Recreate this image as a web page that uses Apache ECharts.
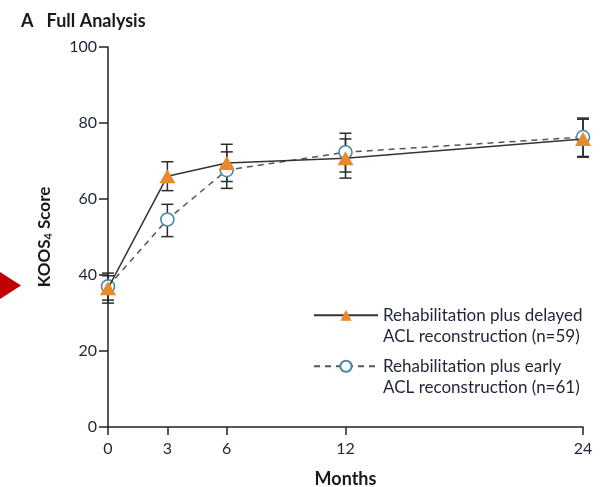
<!DOCTYPE html>
<html>
<head>
<meta charset="utf-8">
<script src="https://cdn.jsdelivr.net/npm/echarts@6/dist/echarts.min.js"></script>
<style>
  html, body { margin: 0; padding: 0; background: #fff; }
  #chart { width: 600px; height: 487px; }
</style>
</head>
<body>
<div id="chart"></div>
<script>
var months = [0, 3, 6, 12, 24];
var monthTicks = [0, 3, 6, 12, 24];

// Rehabilitation plus delayed ACL reconstruction
var delayedMean = [36.5, 66.0, 69.5, 70.7, 75.8];
var delayedLow = [33.4, 62.2, 64.6, 65.5, 71.0];
var delayedHigh = [39.8, 69.8, 74.4, 75.8, 81.0];

// Rehabilitation plus early ACL reconstruction
var earlyMean = [37.0, 54.6, 67.6, 72.3, 76.3];
var earlyLow = [32.6, 50.1, 62.8, 67.1, 71.2];
var earlyHigh = [40.5, 58.6, 72.4, 77.3, 81.3];

var nameDelayed = 'Rehabilitation plus delayed\nACL reconstruction (n=59)';
var nameEarly = 'Rehabilitation plus early\nACL reconstruction (n=61)';

var FONT = 'Lato';
var TXT = '#1f2536';

function pairs(xs, ys) {
	return xs.map(function (x, i) { return [x, ys[i]]; });
}
function bars(xs, lo, hi) {
	return xs.map(function (x, i) { return [x, lo[i], hi[i]]; });
}

function renderErrorBar(params, api) {
	var x = api.value(0);
	var lo = api.coord([x, api.value(1)]);
	var hi = api.coord([x, api.value(2)]);
	var w = 6;
	var style = { stroke: '#2b2b2b', lineWidth: 1.5 };
	return {
		type: 'group',
		children: [
			{ type: 'line', shape: { x1: lo[0], y1: lo[1], x2: hi[0], y2: hi[1] }, style: style },
			{ type: 'line', shape: { x1: lo[0] - w, y1: lo[1], x2: lo[0] + w, y2: lo[1] }, style: style },
			{ type: 'line', shape: { x1: hi[0] - w, y1: hi[1], x2: hi[0] + w, y2: hi[1] }, style: style }
		]
	};
}

var chart = echarts.init(document.getElementById('chart'));

// empty first line so the icon sits level with the first text line
function legendLabel(name) {
	return '\n' + name;
}

var legendText = {
	fontFamily: FONT,
	fontSize: 17,
	color: TXT,
	lineHeight: 21.5
};

var option = {
	backgroundColor: '#fff',
	animation: false,
	title: {
		text: 'A   Full Analysis',
		left: 16,
		top: 7,
		textStyle: { fontFamily: FONT, fontSize: 18, fontWeight: 'bold', color: '#1a1a1a' }
	},
	grid: { left: 108, right: 17, top: 47, bottom: 60, outerBoundsMode: 'none', containLabel: false },
	legend: [
		{
			data: [nameDelayed],
			formatter: legendLabel,
			left: 308,
			top: 278,
			itemWidth: 64,
			itemHeight: 14,
			itemGap: 8,
			textStyle: legendText
		},
		{
			data: [nameEarly],
			formatter: legendLabel,
			left: 308,
			top: 329,
			itemWidth: 64,
			itemHeight: 14,
			itemGap: 8,
			textStyle: legendText
		}
	],
	xAxis: {
		type: 'value',
		min: 0,
		max: 24,
		name: 'Months',
		nameLocation: 'middle',
		nameGap: 43,
		nameTextStyle: { fontFamily: FONT, fontSize: 18, fontWeight: 'bold', color: '#1a1a1a' },
		axisLine: { lineStyle: { color: '#222', width: 1.5 } },
		axisTick: { show: true, customValues: monthTicks, length: 8, lineStyle: { color: '#222', width: 1.5 } },
		axisLabel: { customValues: monthTicks, fontFamily: FONT, fontSize: 16, color: TXT, margin: 14 },
		splitLine: { show: false }
	},
	yAxis: {
		type: 'value',
		min: 0,
		max: 100,
		interval: 20,
		name: '{m|KOOS}{s|4}{m| Score}',
		nameLocation: 'middle',
		nameGap: 54,
		nameRotate: 90,
		nameTextStyle: {
			rich: {
				m: { fontFamily: FONT, fontSize: 17, fontWeight: 'bold', color: '#1a1a1a' },
				s: { fontFamily: FONT, fontSize: 11, fontWeight: 'bold', color: '#1a1a1a', verticalAlign: 'bottom', padding: [7, 0, 0, 0] }
			}
		},
		axisLine: { show: true, lineStyle: { color: '#222', width: 1.5 } },
		axisTick: { show: true, length: 9, lineStyle: { color: '#222', width: 1.5 } },
		axisLabel: { fontFamily: FONT, fontSize: 16, color: TXT, margin: 11 },
		splitLine: { show: false }
	},
	series: [
		{
			type: 'custom',
			renderItem: renderErrorBar,
			data: bars(months, delayedLow, delayedHigh),
			encode: { x: 0, y: [1, 2] },
			z: 1,
			silent: true
		},
		{
			type: 'custom',
			renderItem: renderErrorBar,
			data: bars(months, earlyLow, earlyHigh),
			encode: { x: 0, y: [1, 2] },
			z: 1,
			silent: true
		},
		{
			name: nameEarly,
			type: 'line',
			data: pairs(months, earlyMean),
			symbol: 'circle',
			symbolSize: 13,
			z: 3,
			lineStyle: { color: '#555', width: 1.5, type: [6, 5] },
			itemStyle: { color: '#fff', borderColor: '#4a87a6', borderWidth: 1.6 }
		},
		{
			name: nameDelayed,
			type: 'line',
			data: pairs(months, delayedMean),
			symbol: 'triangle',
			symbolSize: [16, 14],
			z: 4,
			lineStyle: { color: '#333', width: 1.5 },
			itemStyle: { color: '#e8892b', borderWidth: 0 }
		}
	],
	graphic: [
		{
			type: 'polygon',
			shape: { points: [[0, 272], [21, 285.5], [0, 299]] },
			style: { fill: '#c00000' }
		}
	]
};

chart.setOption(option);
</script>
</body>
</html>
